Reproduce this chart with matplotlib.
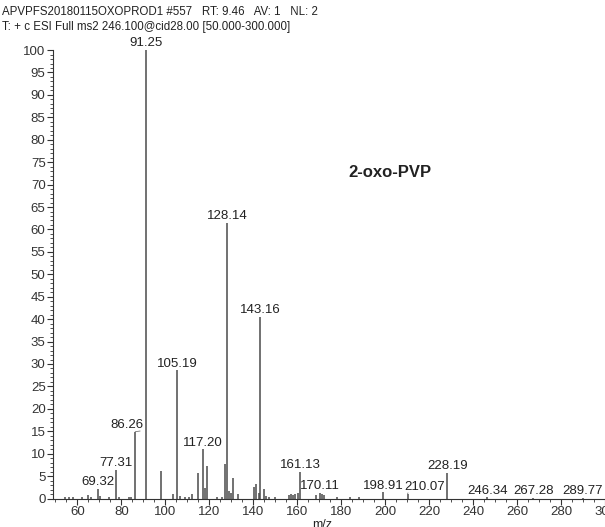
import matplotlib.pyplot as plt
from matplotlib.ticker import MultipleLocator

plt.rcParams['font.family'] = ['Liberation Sans', 'DejaVu Sans']

# peak list (m/z, relative abundance %)
mz = [54.5, 56.0, 58.0, 62.0, 64.6, 66.0, 69.32, 70.3, 74.5, 77.31, 79.0,
      83.5, 84.2, 86.26, 91.25, 98.1, 103.3, 105.19, 106.8, 108.9, 110.5,
      112.3, 115.0, 117.20, 118.1, 119.0, 123.5, 125.5, 127.0, 128.14,
      129.1, 130.0, 130.9, 133.1, 140.1, 141.1, 142.3, 143.16, 144.8,
      145.8, 147.0, 150.0, 156.1, 157.0, 158.0, 158.9, 160.1, 161.13,
      168.5, 170.11, 171.0, 172.0, 178.0, 184.0, 188.0, 198.91, 210.07,
      228.19, 246.34, 267.28, 289.77]
intensity = [0.3, 0.4, 0.3, 0.3, 0.9, 0.4, 2.1, 0.6, 0.3, 6.4, 0.3,
             0.4, 0.4, 14.9, 100.0, 6.1, 1.1, 28.6, 0.6, 0.4, 0.3,
             1.1, 5.8, 11.0, 2.3, 7.3, 0.3, 0.4, 7.6, 61.5,
             1.7, 1.3, 4.6, 1.1, 2.5, 3.3, 1.2, 40.5, 2.2,
             0.6, 0.3, 0.3, 0.7, 1.0, 0.8, 1.0, 1.3, 6.0,
             0.7, 1.2, 1.0, 0.8, 0.3, 0.3, 0.3, 1.4, 1.1,
             5.8, 0.3, 0.1, 0.1]

labels = ['69.32', '77.31', '86.26', '91.25', '105.19', '117.20', '128.14',
          '143.16', '161.13', '170.11', '198.91', '210.07', '228.19',
          '246.34', '267.28', '289.77']
# labels pushed sideways in the original, with a short leader line
shifted = {'86.26': (-6, 0.9), '210.07': (12, 0.1)}

header = ['APVPFS20180115OXOPROD1 #557   RT: 9.46   AV: 1   NL: 2',
          'T: + c ESI Full ms2 246.100@cid28.00 [50.000-300.000]']

fig = plt.figure(figsize=(6.05, 5.27), dpi=100)
ax = fig.add_axes([0.088, 0.054, 0.92, 0.851])

ax.vlines(mz, 0, intensity, color='#4a4a4a', linewidth=1.1)

for lab in labels:
    i = mz.index(float(lab))
    if lab in shifted:
        dx, rel = shifted[lab]
        ax.annotate(lab, (mz[i], intensity[i]), xytext=(dx, 0.5),
                    textcoords='offset points', ha='center', va='bottom',
                    fontsize=9.5, color='#222222', annotation_clip=False,
                    arrowprops=dict(arrowstyle='-', color='#777777', lw=0.6,
                                    shrinkA=0, shrinkB=0, relpos=(rel, 0)))
    else:
        ax.annotate(lab, (mz[i], intensity[i]), xytext=(0, 0.5),
                    textcoords='offset points', ha='center', va='bottom',
                    fontsize=9.5, color='#222222', annotation_clip=False)

ax.text(0.53, 0.728, '2-oxo-PVP', transform=ax.transAxes, fontsize=12,
        fontweight='bold', color='#222222', ha='left', va='center')

ax.set_xlim(49, 302)
ax.set_ylim(0, 100)
ax.xaxis.set_major_locator(MultipleLocator(20))
ax.xaxis.set_minor_locator(MultipleLocator(5))
ax.yaxis.set_major_locator(MultipleLocator(5))
ax.yaxis.set_minor_locator(MultipleLocator(1))
ax.tick_params(which='major', length=4, width=0.8, labelsize=9.5,
               colors='#333333', pad=1.5)
ax.tick_params(which='minor', length=2.5, width=0.6, colors='#333333')
for side in ['top', 'right']:
    ax.spines[side].set_visible(False)
for side in ['left', 'bottom']:
    ax.spines[side].set_color('#333333')
    ax.spines[side].set_linewidth(0.8)

fig.text(0.004, 0.977, header[0], fontsize=8.3, color='#222222', va='center')
fig.text(0.004, 0.949, header[1], fontsize=8.3, color='#222222', va='center')
fig.text(0.533, 0.016, 'm/z', fontsize=9, color='#222222', ha='center',
         va='top')

fig.savefig('out.png', dpi=100)
